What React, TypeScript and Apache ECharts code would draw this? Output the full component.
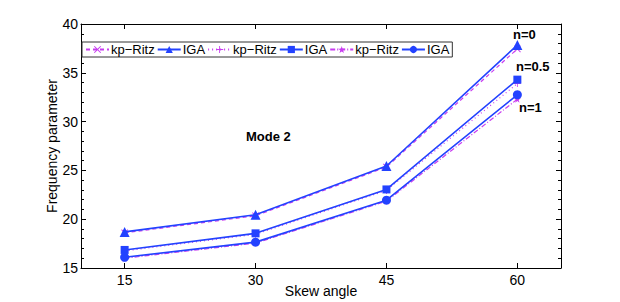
import React, { useEffect, useRef } from "react";
import * as echarts from "echarts";

const skewAngles = [15, 30, 45, 60];
const igaN0 = [18.7, 20.45, 25.45, 37.85];
const ritzN0 = [18.6, 20.35, 25.35, 37.45];
const igaN05 = [16.85, 18.55, 23.05, 34.3];
const ritzN05 = [16.75, 18.45, 22.95, 33.9];
const igaN1 = [16.1, 17.65, 21.95, 32.75];
const ritzN1 = [16.0, 17.55, 21.85, 32.3];
const xTicks = [15, 30, 45, 60];

const BLUE = "#2342ff";
const MAG = "#c83cf0";
const FONT = "Liberation Sans";

const crossPath = "path://M0,1 L1,0 L5,4 L9,0 L10,1 L6,5 L10,9 L9,10 L5,6 L1,10 L0,9 L4,5 Z";
const plusPath = "path://M4.4,0 L5.6,0 L5.6,4.4 L10,4.4 L10,5.6 L5.6,5.6 L5.6,10 L4.4,10 L4.4,5.6 L0,5.6 L0,4.4 L4.4,4.4 Z";
const starPath = "path://M5,0 L6.2,3.6 L10,3.6 L6.9,5.9 L8.1,9.5 L5,7.3 L1.9,9.5 L3.1,5.9 L0,3.6 L3.8,3.6 Z";

function pts(vals: number[]) {
  return skewAngles.map((x, i) => [x, vals[i]]);
}

export default function App() {
  const ref = useRef<HTMLDivElement>(null);
  useEffect(() => {
    if (!ref.current) return;
    const chart = echarts.init(ref.current, undefined, { renderer: "svg" });
    const ritz = (name: string, data: number[], symbol: string, type: any) => ({
      name,
      type: "line",
      data: pts(data),
      symbol,
      symbolSize: 7,
      itemStyle: { color: MAG },
      lineStyle: { color: MAG, width: 1.2, type },
      z: 2,
    });
    const iga = (name: string, data: number[], symbol: string, size: number) => ({
      name,
      type: "line",
      data: pts(data),
      symbol,
      symbolSize: size,
      itemStyle: { color: BLUE },
      lineStyle: { color: BLUE, width: 1.6 },
      z: 3,
    });
    const axisCommon = {
      axisLine: { show: true, onZero: false, lineStyle: { color: "#000", width: 1 } },
      splitLine: { show: false },
    };
    chart.setOption({
      animation: false,
      backgroundColor: "#fff",
      textStyle: { fontFamily: FONT },
      grid: { left: 81, right: 59, top: 24, bottom: 34, outerBoundsMode: "none", containLabel: false },
      legend: {
        left: 82,
        top: 42,
        orient: "horizontal",
        borderColor: "#333",
        borderWidth: 1,
        backgroundColor: "#fff",
        padding: [1, 3],
        itemGap: 2,
        itemWidth: 23,
        itemHeight: 9,
        textStyle: { fontSize: 13, fontFamily: FONT, color: "#000", padding: [0, 0, 0, -3] },
        formatter: (n: string) => n.split(" ")[0],
        data: ["kp−Ritz 1", "IGA 1", "kp−Ritz 2", "IGA 2", "kp−Ritz 3", "IGA 3"],
      },
      xAxis: [
        {
          type: "value",
          min: 10,
          max: 65,
          position: "bottom",
          ...axisCommon,
          name: "Skew angle",
          nameLocation: "middle",
          nameGap: 16,
          nameMoveOverlap: false,
          nameTextStyle: { fontSize: 14, color: "#000", fontFamily: FONT },
          axisTick: { show: true, inside: true, length: 5, customValues: xTicks, lineStyle: { color: "#000" } },
          axisLabel: { customValues: xTicks, fontSize: 14, color: "#000", margin: 5, fontFamily: FONT },
        },
        {
          type: "value",
          min: 10,
          max: 65,
          position: "top",
          ...axisCommon,
          axisTick: { show: true, inside: true, length: 5, customValues: xTicks, lineStyle: { color: "#000" } },
          axisLabel: { show: false },
        },
      ],
      yAxis: [
        {
          type: "value",
          min: 15,
          max: 40,
          interval: 5,
          position: "left",
          ...axisCommon,
          name: "Frequency parameter",
          nameLocation: "middle",
          nameGap: 22,
          nameMoveOverlap: false,
          nameTextStyle: { fontSize: 14, color: "#000", fontFamily: FONT },
          axisTick: { show: true, inside: true, length: 5, lineStyle: { color: "#000" } },
          minorTick: { show: true, splitNumber: 5, length: 3, lineStyle: { color: "#000" } },
          axisLabel: { fontSize: 14, color: "#000", margin: 3, fontFamily: FONT },
        },
        {
          type: "value",
          min: 15,
          max: 40,
          interval: 5,
          position: "right",
          ...axisCommon,
          axisTick: { show: true, inside: true, length: 5, lineStyle: { color: "#000" } },
          minorTick: { show: true, splitNumber: 5, length: 3, lineStyle: { color: "#000" } },
          axisLabel: { show: false },
        },
      ],
      series: [
        ritz("kp−Ritz 1", ritzN0, crossPath, [4, 3]),
        iga("IGA 1", igaN0, "triangle", 10),
        ritz("kp−Ritz 2", ritzN05, plusPath, [1, 3]),
        iga("IGA 2", igaN05, "rect", 8),
        ritz("kp−Ritz 3", ritzN1, starPath, [5, 2, 1, 2]),
        iga("IGA 3", igaN1, "circle", 9),
      ],
      graphic: [
        { type: "text", left: 513, top: 28, style: { text: "n=0", font: `bold 13px ${FONT}`, fill: "#000" } },
        { type: "text", left: 516, top: 60, style: { text: "n=0.5", font: `bold 13px ${FONT}`, fill: "#000" } },
        { type: "text", left: 519, top: 101, style: { text: "n=1", font: `bold 13px ${FONT}`, fill: "#000" } },
        { type: "text", left: 246, top: 130, style: { text: "Mode 2", font: `bold 13px ${FONT}`, fill: "#000" } },
      ],
    });
    return () => chart.dispose();
  }, []);
  return (
    <div
      ref={ref}
      style={{ position: "fixed", left: 0, top: 0, width: 620, height: 302, background: "#fff" }}
    />
  );
}
